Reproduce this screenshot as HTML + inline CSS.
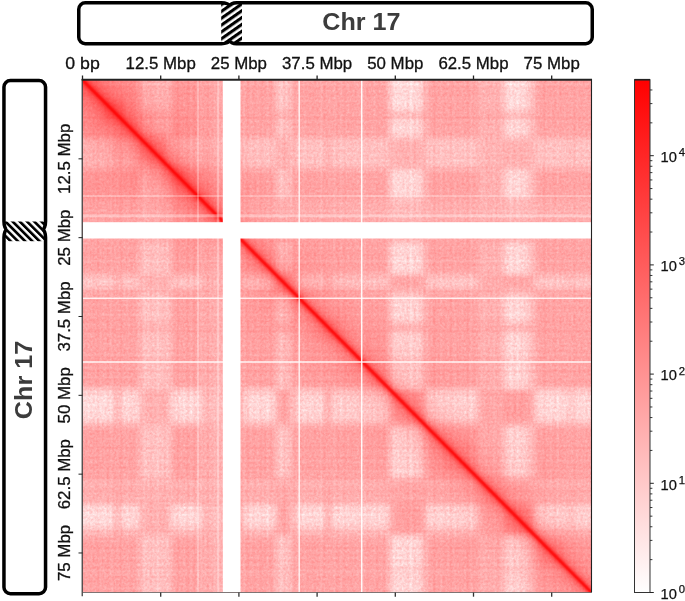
<!DOCTYPE html>
<html><head><meta charset="utf-8"><style>
html,body{margin:0;padding:0;background:#fff;width:685px;height:601px;overflow:hidden}
svg{display:block;will-change:transform}
text{font-family:"Liberation Sans",sans-serif}
</style></head><body>
<svg width="685" height="601" viewBox="0 0 685 601">
<defs>
<pattern id="hatchT" patternUnits="userSpaceOnUse" width="5.6" height="5.6" patternTransform="translate(221,3) rotate(-35)">
<rect x="0" y="0" width="5.6" height="3.1" fill="#000"/></pattern>
<pattern id="hatchL" patternUnits="userSpaceOnUse" width="5.1" height="5.1" patternTransform="translate(3,221) rotate(-45)">
<rect x="0" y="0" width="2.7" height="5.1" fill="#000"/></pattern>
<clipPath id="cpT"><path d="M85.25,2.75 H221.4 A8.2,3.4 0 0 1 229.6,6.15 A7.0,3.4 0 0 1 236.6,2.75 H585.75 A6.5,6.5 0 0 1 592.25,9.25 V37.25 A6.5,6.5 0 0 1 585.75,43.75 H236.6 A7.0,3.4 0 0 1 229.6,40.35 A8.2,3.4 0 0 1 221.4,43.75 H85.25 A6.5,6.5 0 0 1 78.75,37.25 V9.25 A6.5,6.5 0 0 1 85.25,2.75 Z"/></clipPath>
<clipPath id="cpL"><path d="M3.95,87.05 A6.5,6.5 0 0 1 10.45,80.55 H39.05 A6.5,6.5 0 0 1 45.55,87.05 V221.5 A3.2,8.0 0 0 1 42.35,229.5 A3.2,8.0 0 0 1 45.55,237.5 V587.15 A6.5,6.5 0 0 1 39.05,593.65 H10.45 A6.5,6.5 0 0 1 3.95,587.15 V237.5 A3.2,8.0 0 0 1 7.15,229.5 A3.2,8.0 0 0 1 3.95,221.5 Z"/></clipPath>
<clipPath id="hmclip"><rect x="82.5" y="80" width="509" height="512.5"/></clipPath>
<linearGradient id="cbg" x1="0" y1="1" x2="0" y2="0"><stop offset="0" stop-color="#fff"/><stop offset="1" stop-color="#f00"/></linearGradient>
<linearGradient id="diagg" x1="0" y1="0" x2="0" y2="1"><stop offset="0.0000" stop-color="#f00" stop-opacity="0.000"/><stop offset="0.1250" stop-color="#f00" stop-opacity="0.006"/><stop offset="0.2500" stop-color="#f00" stop-opacity="0.023"/><stop offset="0.3333" stop-color="#f00" stop-opacity="0.047"/><stop offset="0.3833" stop-color="#f00" stop-opacity="0.073"/><stop offset="0.4208" stop-color="#f00" stop-opacity="0.109"/><stop offset="0.4458" stop-color="#f00" stop-opacity="0.153"/><stop offset="0.4604" stop-color="#f00" stop-opacity="0.200"/><stop offset="0.4717" stop-color="#f00" stop-opacity="0.258"/><stop offset="0.4800" stop-color="#f00" stop-opacity="0.336"/><stop offset="0.4858" stop-color="#f00" stop-opacity="0.438"/><stop offset="0.4900" stop-color="#f00" stop-opacity="0.562"/><stop offset="0.4933" stop-color="#f00" stop-opacity="0.703"/><stop offset="0.4962" stop-color="#f00" stop-opacity="0.844"/><stop offset="0.5000" stop-color="#f00" stop-opacity="0.906"/><stop offset="0.5038" stop-color="#f00" stop-opacity="0.844"/><stop offset="0.5067" stop-color="#f00" stop-opacity="0.703"/><stop offset="0.5100" stop-color="#f00" stop-opacity="0.562"/><stop offset="0.5142" stop-color="#f00" stop-opacity="0.438"/><stop offset="0.5200" stop-color="#f00" stop-opacity="0.336"/><stop offset="0.5283" stop-color="#f00" stop-opacity="0.258"/><stop offset="0.5396" stop-color="#f00" stop-opacity="0.200"/><stop offset="0.5542" stop-color="#f00" stop-opacity="0.153"/><stop offset="0.5792" stop-color="#f00" stop-opacity="0.109"/><stop offset="0.6167" stop-color="#f00" stop-opacity="0.073"/><stop offset="0.6667" stop-color="#f00" stop-opacity="0.047"/><stop offset="0.7500" stop-color="#f00" stop-opacity="0.023"/><stop offset="0.8750" stop-color="#f00" stop-opacity="0.006"/><stop offset="1.0000" stop-color="#f00" stop-opacity="0.000"/></linearGradient><linearGradient id="phalo" x1="0" y1="0" x2="0" y2="1"><stop offset="0.0000" stop-color="#f00" stop-opacity="0.000"/><stop offset="0.1545" stop-color="#f00" stop-opacity="0.023"/><stop offset="0.2727" stop-color="#f00" stop-opacity="0.055"/><stop offset="0.3545" stop-color="#f00" stop-opacity="0.094"/><stop offset="0.4091" stop-color="#f00" stop-opacity="0.133"/><stop offset="0.4545" stop-color="#f00" stop-opacity="0.172"/><stop offset="0.5000" stop-color="#f00" stop-opacity="0.188"/><stop offset="0.5455" stop-color="#f00" stop-opacity="0.172"/><stop offset="0.5909" stop-color="#f00" stop-opacity="0.133"/><stop offset="0.6455" stop-color="#f00" stop-opacity="0.094"/><stop offset="0.7273" stop-color="#f00" stop-opacity="0.055"/><stop offset="0.8455" stop-color="#f00" stop-opacity="0.023"/><stop offset="1.0000" stop-color="#f00" stop-opacity="0.000"/></linearGradient>
<filter id="tex" filterUnits="userSpaceOnUse" x="82.5" y="80" width="509" height="512.5" color-interpolation-filters="sRGB">
<feTurbulence type="fractalNoise" baseFrequency="0.42" numOctaves="2" seed="4" result="n1"/>
<feTurbulence type="fractalNoise" baseFrequency="0 0.3" numOctaves="1" seed="9" result="n2"/>
<feTurbulence type="fractalNoise" baseFrequency="0.3 0" numOctaves="1" seed="11" result="n3"/>
<feComposite in="n2" in2="n3" operator="arithmetic" k2="0.5" k3="0.5" result="n23"/>
<feComposite in="n1" in2="n23" operator="arithmetic" k2="0.45" k3="0.55" result="n"/>
<feColorMatrix in="n" type="matrix" values="1 0 0 0 0  1 0 0 0 0  1 0 0 0 0  0 0 0 0 1" result="ng"/>
<feComposite in="SourceGraphic" in2="ng" operator="arithmetic" k1="0.65" k2="0.675" result="m"/>
<feColorMatrix in="m" type="matrix" values="0 0 0 0 1  0 1 0 0 0  0 0 1 0 0  0 0 0 0 1"/>
</filter>
<filter id="tadb" x="-30%" y="-30%" width="160%" height="160%"><feGaussianBlur stdDeviation="3"/></filter>
<filter id="blk" x="-5%" y="-5%" width="110%" height="110%"><feGaussianBlur stdDeviation="3.0"/></filter>
</defs>
<rect width="685" height="601" fill="#fff"/>
<path d="M85.25,2.75 H221.4 A8.2,3.4 0 0 1 229.6,6.15 A7.0,3.4 0 0 1 236.6,2.75 H585.75 A6.5,6.5 0 0 1 592.25,9.25 V37.25 A6.5,6.5 0 0 1 585.75,43.75 H236.6 A7.0,3.4 0 0 1 229.6,40.35 A8.2,3.4 0 0 1 221.4,43.75 H85.25 A6.5,6.5 0 0 1 78.75,37.25 V9.25 A6.5,6.5 0 0 1 85.25,2.75 Z" fill="#fff"/>
<rect x="221.2" y="0" width="20.8" height="47" fill="url(#hatchT)" clip-path="url(#cpT)"/>
<path d="M85.25,2.75 H221.4 A8.2,3.4 0 0 1 229.6,6.15 A7.0,3.4 0 0 1 236.6,2.75 H585.75 A6.5,6.5 0 0 1 592.25,9.25 V37.25 A6.5,6.5 0 0 1 585.75,43.75 H236.6 A7.0,3.4 0 0 1 229.6,40.35 A8.2,3.4 0 0 1 221.4,43.75 H85.25 A6.5,6.5 0 0 1 78.75,37.25 V9.25 A6.5,6.5 0 0 1 85.25,2.75 Z" fill="none" stroke="#000" stroke-width="3.5"/>
<path d="M3.95,87.05 A6.5,6.5 0 0 1 10.45,80.55 H39.05 A6.5,6.5 0 0 1 45.55,87.05 V221.5 A3.2,8.0 0 0 1 42.35,229.5 A3.2,8.0 0 0 1 45.55,237.5 V587.15 A6.5,6.5 0 0 1 39.05,593.65 H10.45 A6.5,6.5 0 0 1 3.95,587.15 V237.5 A3.2,8.0 0 0 1 7.15,229.5 A3.2,8.0 0 0 1 3.95,221.5 Z" fill="#fff"/>
<rect x="0" y="221.5" width="50" height="19.7" fill="url(#hatchL)" clip-path="url(#cpL)"/>
<path d="M3.95,87.05 A6.5,6.5 0 0 1 10.45,80.55 H39.05 A6.5,6.5 0 0 1 45.55,87.05 V221.5 A3.2,8.0 0 0 1 42.35,229.5 A3.2,8.0 0 0 1 45.55,237.5 V587.15 A6.5,6.5 0 0 1 39.05,593.65 H10.45 A6.5,6.5 0 0 1 3.95,587.15 V237.5 A3.2,8.0 0 0 1 7.15,229.5 A3.2,8.0 0 0 1 3.95,221.5 Z" fill="none" stroke="#000" stroke-width="3.5"/>
<text x="361.4" y="30.1" font-weight="bold" font-size="24.5" fill="#3c3c3c" text-anchor="middle" textLength="78.3" lengthAdjust="spacingAndGlyphs">Chr 17</text>
<text transform="translate(31.5,380) rotate(-90)" font-weight="bold" font-size="24.5" fill="#3c3c3c" text-anchor="middle" textLength="78.3" lengthAdjust="spacingAndGlyphs">Chr 17</text>
<g clip-path="url(#hmclip)">
<g filter="url(#tex)">
<g filter="url(#blk)">
<rect x="70.5" y="68" width="44.3" height="44.52" fill="rgb(255,152,152)"/>
<rect x="114.5" y="68" width="5.3" height="44.52" fill="rgb(255,160,160)"/>
<rect x="119.5" y="68" width="20.8" height="44.52" fill="rgb(255,153,153)"/>
<rect x="140" y="68" width="31.3" height="44.52" fill="rgb(255,183,183)"/>
<rect x="171" y="68" width="29.3" height="44.52" fill="rgb(255,153,153)"/>
<rect x="200" y="68" width="23.1" height="44.52" fill="rgb(255,164,164)"/>
<rect x="222.8" y="68" width="18" height="44.52" fill="rgb(255,171,171)"/>
<rect x="240.5" y="68" width="4.3" height="44.52" fill="rgb(255,168,168)"/>
<rect x="244.5" y="68" width="31.8" height="44.52" fill="rgb(255,163,163)"/>
<rect x="276" y="68" width="14.3" height="44.52" fill="rgb(255,198,198)"/>
<rect x="290" y="68" width="9.3" height="44.52" fill="rgb(255,167,167)"/>
<rect x="299" y="68" width="26.3" height="44.52" fill="rgb(255,163,163)"/>
<rect x="325" y="68" width="6.3" height="44.52" fill="rgb(255,166,166)"/>
<rect x="331" y="68" width="29.3" height="44.52" fill="rgb(255,164,164)"/>
<rect x="360" y="68" width="4.3" height="44.52" fill="rgb(255,166,166)"/>
<rect x="364" y="68" width="26.3" height="44.52" fill="rgb(255,164,164)"/>
<rect x="390" y="68" width="30.3" height="44.52" fill="rgb(255,217,217)"/>
<rect x="420" y="68" width="6.3" height="44.52" fill="rgb(255,194,194)"/>
<rect x="426" y="68" width="52.3" height="44.52" fill="rgb(255,163,163)"/>
<rect x="478" y="68" width="12.3" height="44.52" fill="rgb(255,178,178)"/>
<rect x="490" y="68" width="14.3" height="44.52" fill="rgb(255,175,175)"/>
<rect x="504" y="68" width="23.3" height="44.52" fill="rgb(255,217,217)"/>
<rect x="527" y="68" width="8.3" height="44.52" fill="rgb(255,192,192)"/>
<rect x="535" y="68" width="33.3" height="44.52" fill="rgb(255,163,163)"/>
<rect x="568" y="68" width="4.3" height="44.52" fill="rgb(255,167,167)"/>
<rect x="572" y="68" width="31.8" height="44.52" fill="rgb(255,164,164)"/>
<rect x="70.5" y="112.22" width="44.3" height="5.33" fill="rgb(255,160,160)"/>
<rect x="114.5" y="112.22" width="5.3" height="5.33" fill="rgb(255,161,161)"/>
<rect x="119.5" y="112.22" width="20.8" height="5.33" fill="rgb(255,160,160)"/>
<rect x="140" y="112.22" width="31.3" height="5.33" fill="rgb(255,170,170)"/>
<rect x="171" y="112.22" width="29.3" height="5.33" fill="rgb(255,160,160)"/>
<rect x="200" y="112.22" width="23.1" height="5.33" fill="rgb(255,166,166)"/>
<rect x="222.8" y="112.22" width="18" height="5.33" fill="rgb(255,171,171)"/>
<rect x="240.5" y="112.22" width="4.3" height="5.33" fill="rgb(255,171,171)"/>
<rect x="244.5" y="112.22" width="31.8" height="5.33" fill="rgb(255,170,170)"/>
<rect x="276" y="112.22" width="14.3" height="5.33" fill="rgb(255,172,172)"/>
<rect x="290" y="112.22" width="9.3" height="5.33" fill="rgb(255,171,171)"/>
<rect x="299" y="112.22" width="26.3" height="5.33" fill="rgb(255,170,170)"/>
<rect x="325" y="112.22" width="6.3" height="5.33" fill="rgb(255,166,166)"/>
<rect x="331" y="112.22" width="29.3" height="5.33" fill="rgb(255,170,170)"/>
<rect x="360" y="112.22" width="4.3" height="5.33" fill="rgb(255,171,171)"/>
<rect x="364" y="112.22" width="26.3" height="5.33" fill="rgb(255,170,170)"/>
<rect x="390" y="112.22" width="30.3" height="5.33" fill="rgb(255,173,173)"/>
<rect x="420" y="112.22" width="6.3" height="5.33" fill="rgb(255,172,172)"/>
<rect x="426" y="112.22" width="52.3" height="5.33" fill="rgb(255,170,170)"/>
<rect x="478" y="112.22" width="12.3" height="5.33" fill="rgb(255,174,174)"/>
<rect x="490" y="112.22" width="14.3" height="5.33" fill="rgb(255,171,171)"/>
<rect x="504" y="112.22" width="23.3" height="5.33" fill="rgb(255,173,173)"/>
<rect x="527" y="112.22" width="8.3" height="5.33" fill="rgb(255,172,172)"/>
<rect x="535" y="112.22" width="33.3" height="5.33" fill="rgb(255,170,170)"/>
<rect x="568" y="112.22" width="4.3" height="5.33" fill="rgb(255,171,171)"/>
<rect x="572" y="112.22" width="31.8" height="5.33" fill="rgb(255,170,170)"/>
<rect x="70.5" y="117.25" width="44.3" height="20.94" fill="rgb(255,153,153)"/>
<rect x="114.5" y="117.25" width="5.3" height="20.94" fill="rgb(255,160,160)"/>
<rect x="119.5" y="117.25" width="20.8" height="20.94" fill="rgb(255,154,154)"/>
<rect x="140" y="117.25" width="31.3" height="20.94" fill="rgb(255,182,182)"/>
<rect x="171" y="117.25" width="29.3" height="20.94" fill="rgb(255,154,154)"/>
<rect x="200" y="117.25" width="23.1" height="20.94" fill="rgb(255,164,164)"/>
<rect x="222.8" y="117.25" width="18" height="20.94" fill="rgb(255,171,171)"/>
<rect x="240.5" y="117.25" width="4.3" height="20.94" fill="rgb(255,168,168)"/>
<rect x="244.5" y="117.25" width="31.8" height="20.94" fill="rgb(255,164,164)"/>
<rect x="276" y="117.25" width="14.3" height="20.94" fill="rgb(255,195,195)"/>
<rect x="290" y="117.25" width="9.3" height="20.94" fill="rgb(255,168,168)"/>
<rect x="299" y="117.25" width="26.3" height="20.94" fill="rgb(255,164,164)"/>
<rect x="325" y="117.25" width="6.3" height="20.94" fill="rgb(255,166,166)"/>
<rect x="331" y="117.25" width="29.3" height="20.94" fill="rgb(255,164,164)"/>
<rect x="360" y="117.25" width="4.3" height="20.94" fill="rgb(255,167,167)"/>
<rect x="364" y="117.25" width="26.3" height="20.94" fill="rgb(255,164,164)"/>
<rect x="390" y="117.25" width="30.3" height="20.94" fill="rgb(255,212,212)"/>
<rect x="420" y="117.25" width="6.3" height="20.94" fill="rgb(255,191,191)"/>
<rect x="426" y="117.25" width="52.3" height="20.94" fill="rgb(255,164,164)"/>
<rect x="478" y="117.25" width="12.3" height="20.94" fill="rgb(255,177,177)"/>
<rect x="490" y="117.25" width="14.3" height="20.94" fill="rgb(255,175,175)"/>
<rect x="504" y="117.25" width="23.3" height="20.94" fill="rgb(255,212,212)"/>
<rect x="527" y="117.25" width="8.3" height="20.94" fill="rgb(255,189,189)"/>
<rect x="535" y="117.25" width="33.3" height="20.94" fill="rgb(255,164,164)"/>
<rect x="568" y="117.25" width="4.3" height="20.94" fill="rgb(255,168,168)"/>
<rect x="572" y="117.25" width="31.8" height="20.94" fill="rgb(255,164,164)"/>
<rect x="70.5" y="137.9" width="44.3" height="31.51" fill="rgb(255,183,183)"/>
<rect x="114.5" y="137.9" width="5.3" height="31.51" fill="rgb(255,170,170)"/>
<rect x="119.5" y="137.9" width="20.8" height="31.51" fill="rgb(255,182,182)"/>
<rect x="140" y="137.9" width="31.3" height="31.51" fill="rgb(255,178,178)"/>
<rect x="171" y="137.9" width="29.3" height="31.51" fill="rgb(255,183,183)"/>
<rect x="200" y="137.9" width="23.1" height="31.51" fill="rgb(255,178,178)"/>
<rect x="222.8" y="137.9" width="18" height="31.51" fill="rgb(255,180,180)"/>
<rect x="240.5" y="137.9" width="4.3" height="31.51" fill="rgb(255,184,184)"/>
<rect x="244.5" y="137.9" width="31.8" height="31.51" fill="rgb(255,193,193)"/>
<rect x="276" y="137.9" width="14.3" height="31.51" fill="rgb(255,178,178)"/>
<rect x="290" y="137.9" width="9.3" height="31.51" fill="rgb(255,186,186)"/>
<rect x="299" y="137.9" width="26.3" height="31.51" fill="rgb(255,193,193)"/>
<rect x="325" y="137.9" width="6.3" height="31.51" fill="rgb(255,175,175)"/>
<rect x="331" y="137.9" width="29.3" height="31.51" fill="rgb(255,192,192)"/>
<rect x="360" y="137.9" width="4.3" height="31.51" fill="rgb(255,187,187)"/>
<rect x="364" y="137.9" width="26.3" height="31.51" fill="rgb(255,192,192)"/>
<rect x="390" y="137.9" width="30.3" height="31.51" fill="rgb(255,177,177)"/>
<rect x="420" y="137.9" width="6.3" height="31.51" fill="rgb(255,178,178)"/>
<rect x="426" y="137.9" width="52.3" height="31.51" fill="rgb(255,193,193)"/>
<rect x="478" y="137.9" width="12.3" height="31.51" fill="rgb(255,182,182)"/>
<rect x="490" y="137.9" width="14.3" height="31.51" fill="rgb(255,179,179)"/>
<rect x="504" y="137.9" width="23.3" height="31.51" fill="rgb(255,177,177)"/>
<rect x="527" y="137.9" width="8.3" height="31.51" fill="rgb(255,178,178)"/>
<rect x="535" y="137.9" width="33.3" height="31.51" fill="rgb(255,193,193)"/>
<rect x="568" y="137.9" width="4.3" height="31.51" fill="rgb(255,186,186)"/>
<rect x="572" y="137.9" width="31.8" height="31.51" fill="rgb(255,192,192)"/>
<rect x="70.5" y="169.11" width="44.3" height="29.5" fill="rgb(255,153,153)"/>
<rect x="114.5" y="169.11" width="5.3" height="29.5" fill="rgb(255,160,160)"/>
<rect x="119.5" y="169.11" width="20.8" height="29.5" fill="rgb(255,154,154)"/>
<rect x="140" y="169.11" width="31.3" height="29.5" fill="rgb(255,183,183)"/>
<rect x="171" y="169.11" width="29.3" height="29.5" fill="rgb(255,153,153)"/>
<rect x="200" y="169.11" width="23.1" height="29.5" fill="rgb(255,164,164)"/>
<rect x="222.8" y="169.11" width="18" height="29.5" fill="rgb(255,171,171)"/>
<rect x="240.5" y="169.11" width="4.3" height="29.5" fill="rgb(255,168,168)"/>
<rect x="244.5" y="169.11" width="31.8" height="29.5" fill="rgb(255,163,163)"/>
<rect x="276" y="169.11" width="14.3" height="29.5" fill="rgb(255,197,197)"/>
<rect x="290" y="169.11" width="9.3" height="29.5" fill="rgb(255,167,167)"/>
<rect x="299" y="169.11" width="26.3" height="29.5" fill="rgb(255,163,163)"/>
<rect x="325" y="169.11" width="6.3" height="29.5" fill="rgb(255,166,166)"/>
<rect x="331" y="169.11" width="29.3" height="29.5" fill="rgb(255,164,164)"/>
<rect x="360" y="169.11" width="4.3" height="29.5" fill="rgb(255,167,167)"/>
<rect x="364" y="169.11" width="26.3" height="29.5" fill="rgb(255,164,164)"/>
<rect x="390" y="169.11" width="30.3" height="29.5" fill="rgb(255,214,214)"/>
<rect x="420" y="169.11" width="6.3" height="29.5" fill="rgb(255,193,193)"/>
<rect x="426" y="169.11" width="52.3" height="29.5" fill="rgb(255,163,163)"/>
<rect x="478" y="169.11" width="12.3" height="29.5" fill="rgb(255,178,178)"/>
<rect x="490" y="169.11" width="14.3" height="29.5" fill="rgb(255,175,175)"/>
<rect x="504" y="169.11" width="23.3" height="29.5" fill="rgb(255,214,214)"/>
<rect x="527" y="169.11" width="8.3" height="29.5" fill="rgb(255,190,190)"/>
<rect x="535" y="169.11" width="33.3" height="29.5" fill="rgb(255,163,163)"/>
<rect x="568" y="169.11" width="4.3" height="29.5" fill="rgb(255,167,167)"/>
<rect x="572" y="169.11" width="31.8" height="29.5" fill="rgb(255,164,164)"/>
<rect x="70.5" y="198.31" width="44.3" height="23.26" fill="rgb(255,164,164)"/>
<rect x="114.5" y="198.31" width="5.3" height="23.26" fill="rgb(255,166,166)"/>
<rect x="119.5" y="198.31" width="20.8" height="23.26" fill="rgb(255,164,164)"/>
<rect x="140" y="198.31" width="31.3" height="23.26" fill="rgb(255,178,178)"/>
<rect x="171" y="198.31" width="29.3" height="23.26" fill="rgb(255,164,164)"/>
<rect x="200" y="198.31" width="23.1" height="23.26" fill="rgb(255,170,170)"/>
<rect x="222.8" y="198.31" width="18" height="23.26" fill="rgb(255,176,176)"/>
<rect x="240.5" y="198.31" width="4.3" height="23.26" fill="rgb(255,175,175)"/>
<rect x="244.5" y="198.31" width="31.8" height="23.26" fill="rgb(255,174,174)"/>
<rect x="276" y="198.31" width="14.3" height="23.26" fill="rgb(255,182,182)"/>
<rect x="290" y="198.31" width="9.3" height="23.26" fill="rgb(255,175,175)"/>
<rect x="299" y="198.31" width="26.3" height="23.26" fill="rgb(255,174,174)"/>
<rect x="325" y="198.31" width="6.3" height="23.26" fill="rgb(255,171,171)"/>
<rect x="331" y="198.31" width="29.3" height="23.26" fill="rgb(255,174,174)"/>
<rect x="360" y="198.31" width="4.3" height="23.26" fill="rgb(255,175,175)"/>
<rect x="364" y="198.31" width="26.3" height="23.26" fill="rgb(255,174,174)"/>
<rect x="390" y="198.31" width="30.3" height="23.26" fill="rgb(255,186,186)"/>
<rect x="420" y="198.31" width="6.3" height="23.26" fill="rgb(255,181,181)"/>
<rect x="426" y="198.31" width="52.3" height="23.26" fill="rgb(255,174,174)"/>
<rect x="478" y="198.31" width="12.3" height="23.26" fill="rgb(255,180,180)"/>
<rect x="490" y="198.31" width="14.3" height="23.26" fill="rgb(255,177,177)"/>
<rect x="504" y="198.31" width="23.3" height="23.26" fill="rgb(255,186,186)"/>
<rect x="527" y="198.31" width="8.3" height="23.26" fill="rgb(255,181,181)"/>
<rect x="535" y="198.31" width="33.3" height="23.26" fill="rgb(255,174,174)"/>
<rect x="568" y="198.31" width="4.3" height="23.26" fill="rgb(255,175,175)"/>
<rect x="572" y="198.31" width="31.8" height="23.26" fill="rgb(255,174,174)"/>
<rect x="70.5" y="221.26" width="44.3" height="18.12" fill="rgb(255,171,171)"/>
<rect x="114.5" y="221.26" width="5.3" height="18.12" fill="rgb(255,171,171)"/>
<rect x="119.5" y="221.26" width="20.8" height="18.12" fill="rgb(255,171,171)"/>
<rect x="140" y="221.26" width="31.3" height="18.12" fill="rgb(255,180,180)"/>
<rect x="171" y="221.26" width="29.3" height="18.12" fill="rgb(255,171,171)"/>
<rect x="200" y="221.26" width="23.1" height="18.12" fill="rgb(255,176,176)"/>
<rect x="222.8" y="221.26" width="18" height="18.12" fill="rgb(255,171,171)"/>
<rect x="240.5" y="221.26" width="4.3" height="18.12" fill="rgb(255,171,171)"/>
<rect x="244.5" y="221.26" width="31.8" height="18.12" fill="rgb(255,171,171)"/>
<rect x="276" y="221.26" width="14.3" height="18.12" fill="rgb(255,171,171)"/>
<rect x="290" y="221.26" width="9.3" height="18.12" fill="rgb(255,171,171)"/>
<rect x="299" y="221.26" width="26.3" height="18.12" fill="rgb(255,171,171)"/>
<rect x="325" y="221.26" width="6.3" height="18.12" fill="rgb(255,166,166)"/>
<rect x="331" y="221.26" width="29.3" height="18.12" fill="rgb(255,171,171)"/>
<rect x="360" y="221.26" width="4.3" height="18.12" fill="rgb(255,171,171)"/>
<rect x="364" y="221.26" width="26.3" height="18.12" fill="rgb(255,171,171)"/>
<rect x="390" y="221.26" width="30.3" height="18.12" fill="rgb(255,171,171)"/>
<rect x="420" y="221.26" width="6.3" height="18.12" fill="rgb(255,171,171)"/>
<rect x="426" y="221.26" width="52.3" height="18.12" fill="rgb(255,171,171)"/>
<rect x="478" y="221.26" width="12.3" height="18.12" fill="rgb(255,173,173)"/>
<rect x="490" y="221.26" width="14.3" height="18.12" fill="rgb(255,171,171)"/>
<rect x="504" y="221.26" width="23.3" height="18.12" fill="rgb(255,171,171)"/>
<rect x="527" y="221.26" width="8.3" height="18.12" fill="rgb(255,171,171)"/>
<rect x="535" y="221.26" width="33.3" height="18.12" fill="rgb(255,171,171)"/>
<rect x="568" y="221.26" width="4.3" height="18.12" fill="rgb(255,171,171)"/>
<rect x="572" y="221.26" width="31.8" height="18.12" fill="rgb(255,171,171)"/>
<rect x="70.5" y="239.09" width="44.3" height="4.33" fill="rgb(255,168,168)"/>
<rect x="114.5" y="239.09" width="5.3" height="4.33" fill="rgb(255,171,171)"/>
<rect x="119.5" y="239.09" width="20.8" height="4.33" fill="rgb(255,168,168)"/>
<rect x="140" y="239.09" width="31.3" height="4.33" fill="rgb(255,184,184)"/>
<rect x="171" y="239.09" width="29.3" height="4.33" fill="rgb(255,168,168)"/>
<rect x="200" y="239.09" width="23.1" height="4.33" fill="rgb(255,175,175)"/>
<rect x="222.8" y="239.09" width="18" height="4.33" fill="rgb(255,171,171)"/>
<rect x="240.5" y="239.09" width="4.3" height="4.33" fill="rgb(255,170,170)"/>
<rect x="244.5" y="239.09" width="31.8" height="4.33" fill="rgb(255,168,168)"/>
<rect x="276" y="239.09" width="14.3" height="4.33" fill="rgb(255,180,180)"/>
<rect x="290" y="239.09" width="9.3" height="4.33" fill="rgb(255,170,170)"/>
<rect x="299" y="239.09" width="26.3" height="4.33" fill="rgb(255,168,168)"/>
<rect x="325" y="239.09" width="6.3" height="4.33" fill="rgb(255,166,166)"/>
<rect x="331" y="239.09" width="29.3" height="4.33" fill="rgb(255,168,168)"/>
<rect x="360" y="239.09" width="4.3" height="4.33" fill="rgb(255,169,169)"/>
<rect x="364" y="239.09" width="26.3" height="4.33" fill="rgb(255,168,168)"/>
<rect x="390" y="239.09" width="30.3" height="4.33" fill="rgb(255,186,186)"/>
<rect x="420" y="239.09" width="6.3" height="4.33" fill="rgb(255,178,178)"/>
<rect x="426" y="239.09" width="52.3" height="4.33" fill="rgb(255,168,168)"/>
<rect x="478" y="239.09" width="12.3" height="4.33" fill="rgb(255,175,175)"/>
<rect x="490" y="239.09" width="14.3" height="4.33" fill="rgb(255,172,172)"/>
<rect x="504" y="239.09" width="23.3" height="4.33" fill="rgb(255,186,186)"/>
<rect x="527" y="239.09" width="8.3" height="4.33" fill="rgb(255,178,178)"/>
<rect x="535" y="239.09" width="33.3" height="4.33" fill="rgb(255,168,168)"/>
<rect x="568" y="239.09" width="4.3" height="4.33" fill="rgb(255,170,170)"/>
<rect x="572" y="239.09" width="31.8" height="4.33" fill="rgb(255,168,168)"/>
<rect x="70.5" y="243.11" width="44.3" height="32.02" fill="rgb(255,163,163)"/>
<rect x="114.5" y="243.11" width="5.3" height="32.02" fill="rgb(255,170,170)"/>
<rect x="119.5" y="243.11" width="20.8" height="32.02" fill="rgb(255,164,164)"/>
<rect x="140" y="243.11" width="31.3" height="32.02" fill="rgb(255,193,193)"/>
<rect x="171" y="243.11" width="29.3" height="32.02" fill="rgb(255,163,163)"/>
<rect x="200" y="243.11" width="23.1" height="32.02" fill="rgb(255,174,174)"/>
<rect x="222.8" y="243.11" width="18" height="32.02" fill="rgb(255,171,171)"/>
<rect x="240.5" y="243.11" width="4.3" height="32.02" fill="rgb(255,168,168)"/>
<rect x="244.5" y="243.11" width="31.8" height="32.02" fill="rgb(255,163,163)"/>
<rect x="276" y="243.11" width="14.3" height="32.02" fill="rgb(255,197,197)"/>
<rect x="290" y="243.11" width="9.3" height="32.02" fill="rgb(255,167,167)"/>
<rect x="299" y="243.11" width="26.3" height="32.02" fill="rgb(255,163,163)"/>
<rect x="325" y="243.11" width="6.3" height="32.02" fill="rgb(255,166,166)"/>
<rect x="331" y="243.11" width="29.3" height="32.02" fill="rgb(255,164,164)"/>
<rect x="360" y="243.11" width="4.3" height="32.02" fill="rgb(255,167,167)"/>
<rect x="364" y="243.11" width="26.3" height="32.02" fill="rgb(255,164,164)"/>
<rect x="390" y="243.11" width="30.3" height="32.02" fill="rgb(255,214,214)"/>
<rect x="420" y="243.11" width="6.3" height="32.02" fill="rgb(255,193,193)"/>
<rect x="426" y="243.11" width="52.3" height="32.02" fill="rgb(255,163,163)"/>
<rect x="478" y="243.11" width="12.3" height="32.02" fill="rgb(255,178,178)"/>
<rect x="490" y="243.11" width="14.3" height="32.02" fill="rgb(255,175,175)"/>
<rect x="504" y="243.11" width="23.3" height="32.02" fill="rgb(255,214,214)"/>
<rect x="527" y="243.11" width="8.3" height="32.02" fill="rgb(255,190,190)"/>
<rect x="535" y="243.11" width="33.3" height="32.02" fill="rgb(255,163,163)"/>
<rect x="568" y="243.11" width="4.3" height="32.02" fill="rgb(255,167,167)"/>
<rect x="572" y="243.11" width="31.8" height="32.02" fill="rgb(255,164,164)"/>
<rect x="70.5" y="274.83" width="44.3" height="14.4" fill="rgb(255,198,198)"/>
<rect x="114.5" y="274.83" width="5.3" height="14.4" fill="rgb(255,172,172)"/>
<rect x="119.5" y="274.83" width="20.8" height="14.4" fill="rgb(255,195,195)"/>
<rect x="140" y="274.83" width="31.3" height="14.4" fill="rgb(255,178,178)"/>
<rect x="171" y="274.83" width="29.3" height="14.4" fill="rgb(255,197,197)"/>
<rect x="200" y="274.83" width="23.1" height="14.4" fill="rgb(255,182,182)"/>
<rect x="222.8" y="274.83" width="18" height="14.4" fill="rgb(255,171,171)"/>
<rect x="240.5" y="274.83" width="4.3" height="14.4" fill="rgb(255,180,180)"/>
<rect x="244.5" y="274.83" width="31.8" height="14.4" fill="rgb(255,197,197)"/>
<rect x="276" y="274.83" width="14.3" height="14.4" fill="rgb(255,167,167)"/>
<rect x="290" y="274.83" width="9.3" height="14.4" fill="rgb(255,183,183)"/>
<rect x="299" y="274.83" width="26.3" height="14.4" fill="rgb(255,197,197)"/>
<rect x="325" y="274.83" width="6.3" height="14.4" fill="rgb(255,166,166)"/>
<rect x="331" y="274.83" width="29.3" height="14.4" fill="rgb(255,195,195)"/>
<rect x="360" y="274.83" width="4.3" height="14.4" fill="rgb(255,186,186)"/>
<rect x="364" y="274.83" width="26.3" height="14.4" fill="rgb(255,195,195)"/>
<rect x="390" y="274.83" width="30.3" height="14.4" fill="rgb(255,165,165)"/>
<rect x="420" y="274.83" width="6.3" height="14.4" fill="rgb(255,168,168)"/>
<rect x="426" y="274.83" width="52.3" height="14.4" fill="rgb(255,197,197)"/>
<rect x="478" y="274.83" width="12.3" height="14.4" fill="rgb(255,173,173)"/>
<rect x="490" y="274.83" width="14.3" height="14.4" fill="rgb(255,170,170)"/>
<rect x="504" y="274.83" width="23.3" height="14.4" fill="rgb(255,165,165)"/>
<rect x="527" y="274.83" width="8.3" height="14.4" fill="rgb(255,168,168)"/>
<rect x="535" y="274.83" width="33.3" height="14.4" fill="rgb(255,197,197)"/>
<rect x="568" y="274.83" width="4.3" height="14.4" fill="rgb(255,183,183)"/>
<rect x="572" y="274.83" width="31.8" height="14.4" fill="rgb(255,195,195)"/>
<rect x="70.5" y="288.93" width="44.3" height="9.36" fill="rgb(255,167,167)"/>
<rect x="114.5" y="288.93" width="5.3" height="9.36" fill="rgb(255,171,171)"/>
<rect x="119.5" y="288.93" width="20.8" height="9.36" fill="rgb(255,168,168)"/>
<rect x="140" y="288.93" width="31.3" height="9.36" fill="rgb(255,186,186)"/>
<rect x="171" y="288.93" width="29.3" height="9.36" fill="rgb(255,167,167)"/>
<rect x="200" y="288.93" width="23.1" height="9.36" fill="rgb(255,175,175)"/>
<rect x="222.8" y="288.93" width="18" height="9.36" fill="rgb(255,171,171)"/>
<rect x="240.5" y="288.93" width="4.3" height="9.36" fill="rgb(255,170,170)"/>
<rect x="244.5" y="288.93" width="31.8" height="9.36" fill="rgb(255,167,167)"/>
<rect x="276" y="288.93" width="14.3" height="9.36" fill="rgb(255,183,183)"/>
<rect x="290" y="288.93" width="9.3" height="9.36" fill="rgb(255,169,169)"/>
<rect x="299" y="288.93" width="26.3" height="9.36" fill="rgb(255,167,167)"/>
<rect x="325" y="288.93" width="6.3" height="9.36" fill="rgb(255,166,166)"/>
<rect x="331" y="288.93" width="29.3" height="9.36" fill="rgb(255,168,168)"/>
<rect x="360" y="288.93" width="4.3" height="9.36" fill="rgb(255,169,169)"/>
<rect x="364" y="288.93" width="26.3" height="9.36" fill="rgb(255,168,168)"/>
<rect x="390" y="288.93" width="30.3" height="9.36" fill="rgb(255,191,191)"/>
<rect x="420" y="288.93" width="6.3" height="9.36" fill="rgb(255,181,181)"/>
<rect x="426" y="288.93" width="52.3" height="9.36" fill="rgb(255,167,167)"/>
<rect x="478" y="288.93" width="12.3" height="9.36" fill="rgb(255,175,175)"/>
<rect x="490" y="288.93" width="14.3" height="9.36" fill="rgb(255,173,173)"/>
<rect x="504" y="288.93" width="23.3" height="9.36" fill="rgb(255,191,191)"/>
<rect x="527" y="288.93" width="8.3" height="9.36" fill="rgb(255,180,180)"/>
<rect x="535" y="288.93" width="33.3" height="9.36" fill="rgb(255,167,167)"/>
<rect x="568" y="288.93" width="4.3" height="9.36" fill="rgb(255,169,169)"/>
<rect x="572" y="288.93" width="31.8" height="9.36" fill="rgb(255,168,168)"/>
<rect x="70.5" y="297.99" width="44.3" height="26.48" fill="rgb(255,163,163)"/>
<rect x="114.5" y="297.99" width="5.3" height="26.48" fill="rgb(255,170,170)"/>
<rect x="119.5" y="297.99" width="20.8" height="26.48" fill="rgb(255,164,164)"/>
<rect x="140" y="297.99" width="31.3" height="26.48" fill="rgb(255,193,193)"/>
<rect x="171" y="297.99" width="29.3" height="26.48" fill="rgb(255,163,163)"/>
<rect x="200" y="297.99" width="23.1" height="26.48" fill="rgb(255,174,174)"/>
<rect x="222.8" y="297.99" width="18" height="26.48" fill="rgb(255,171,171)"/>
<rect x="240.5" y="297.99" width="4.3" height="26.48" fill="rgb(255,168,168)"/>
<rect x="244.5" y="297.99" width="31.8" height="26.48" fill="rgb(255,163,163)"/>
<rect x="276" y="297.99" width="14.3" height="26.48" fill="rgb(255,197,197)"/>
<rect x="290" y="297.99" width="9.3" height="26.48" fill="rgb(255,167,167)"/>
<rect x="299" y="297.99" width="26.3" height="26.48" fill="rgb(255,163,163)"/>
<rect x="325" y="297.99" width="6.3" height="26.48" fill="rgb(255,166,166)"/>
<rect x="331" y="297.99" width="29.3" height="26.48" fill="rgb(255,164,164)"/>
<rect x="360" y="297.99" width="4.3" height="26.48" fill="rgb(255,167,167)"/>
<rect x="364" y="297.99" width="26.3" height="26.48" fill="rgb(255,164,164)"/>
<rect x="390" y="297.99" width="30.3" height="26.48" fill="rgb(255,214,214)"/>
<rect x="420" y="297.99" width="6.3" height="26.48" fill="rgb(255,193,193)"/>
<rect x="426" y="297.99" width="52.3" height="26.48" fill="rgb(255,163,163)"/>
<rect x="478" y="297.99" width="12.3" height="26.48" fill="rgb(255,178,178)"/>
<rect x="490" y="297.99" width="14.3" height="26.48" fill="rgb(255,175,175)"/>
<rect x="504" y="297.99" width="23.3" height="26.48" fill="rgb(255,214,214)"/>
<rect x="527" y="297.99" width="8.3" height="26.48" fill="rgb(255,190,190)"/>
<rect x="535" y="297.99" width="33.3" height="26.48" fill="rgb(255,163,163)"/>
<rect x="568" y="297.99" width="4.3" height="26.48" fill="rgb(255,167,167)"/>
<rect x="572" y="297.99" width="31.8" height="26.48" fill="rgb(255,164,164)"/>
<rect x="70.5" y="324.17" width="44.3" height="6.34" fill="rgb(255,166,166)"/>
<rect x="114.5" y="324.17" width="5.3" height="6.34" fill="rgb(255,166,166)"/>
<rect x="119.5" y="324.17" width="20.8" height="6.34" fill="rgb(255,166,166)"/>
<rect x="140" y="324.17" width="31.3" height="6.34" fill="rgb(255,175,175)"/>
<rect x="171" y="324.17" width="29.3" height="6.34" fill="rgb(255,166,166)"/>
<rect x="200" y="324.17" width="23.1" height="6.34" fill="rgb(255,171,171)"/>
<rect x="222.8" y="324.17" width="18" height="6.34" fill="rgb(255,166,166)"/>
<rect x="240.5" y="324.17" width="4.3" height="6.34" fill="rgb(255,166,166)"/>
<rect x="244.5" y="324.17" width="31.8" height="6.34" fill="rgb(255,166,166)"/>
<rect x="276" y="324.17" width="14.3" height="6.34" fill="rgb(255,166,166)"/>
<rect x="290" y="324.17" width="9.3" height="6.34" fill="rgb(255,166,166)"/>
<rect x="299" y="324.17" width="26.3" height="6.34" fill="rgb(255,166,166)"/>
<rect x="325" y="324.17" width="6.3" height="6.34" fill="rgb(255,161,161)"/>
<rect x="331" y="324.17" width="29.3" height="6.34" fill="rgb(255,166,166)"/>
<rect x="360" y="324.17" width="4.3" height="6.34" fill="rgb(255,166,166)"/>
<rect x="364" y="324.17" width="26.3" height="6.34" fill="rgb(255,166,166)"/>
<rect x="390" y="324.17" width="30.3" height="6.34" fill="rgb(255,166,166)"/>
<rect x="420" y="324.17" width="6.3" height="6.34" fill="rgb(255,166,166)"/>
<rect x="426" y="324.17" width="52.3" height="6.34" fill="rgb(255,166,166)"/>
<rect x="478" y="324.17" width="12.3" height="6.34" fill="rgb(255,168,168)"/>
<rect x="490" y="324.17" width="14.3" height="6.34" fill="rgb(255,166,166)"/>
<rect x="504" y="324.17" width="23.3" height="6.34" fill="rgb(255,166,166)"/>
<rect x="527" y="324.17" width="8.3" height="6.34" fill="rgb(255,166,166)"/>
<rect x="535" y="324.17" width="33.3" height="6.34" fill="rgb(255,166,166)"/>
<rect x="568" y="324.17" width="4.3" height="6.34" fill="rgb(255,166,166)"/>
<rect x="572" y="324.17" width="31.8" height="6.34" fill="rgb(255,166,166)"/>
<rect x="70.5" y="330.21" width="44.3" height="29.5" fill="rgb(255,164,164)"/>
<rect x="114.5" y="330.21" width="5.3" height="29.5" fill="rgb(255,170,170)"/>
<rect x="119.5" y="330.21" width="20.8" height="29.5" fill="rgb(255,164,164)"/>
<rect x="140" y="330.21" width="31.3" height="29.5" fill="rgb(255,192,192)"/>
<rect x="171" y="330.21" width="29.3" height="29.5" fill="rgb(255,164,164)"/>
<rect x="200" y="330.21" width="23.1" height="29.5" fill="rgb(255,174,174)"/>
<rect x="222.8" y="330.21" width="18" height="29.5" fill="rgb(255,171,171)"/>
<rect x="240.5" y="330.21" width="4.3" height="29.5" fill="rgb(255,168,168)"/>
<rect x="244.5" y="330.21" width="31.8" height="29.5" fill="rgb(255,164,164)"/>
<rect x="276" y="330.21" width="14.3" height="29.5" fill="rgb(255,195,195)"/>
<rect x="290" y="330.21" width="9.3" height="29.5" fill="rgb(255,168,168)"/>
<rect x="299" y="330.21" width="26.3" height="29.5" fill="rgb(255,164,164)"/>
<rect x="325" y="330.21" width="6.3" height="29.5" fill="rgb(255,166,166)"/>
<rect x="331" y="330.21" width="29.3" height="29.5" fill="rgb(255,164,164)"/>
<rect x="360" y="330.21" width="4.3" height="29.5" fill="rgb(255,167,167)"/>
<rect x="364" y="330.21" width="26.3" height="29.5" fill="rgb(255,164,164)"/>
<rect x="390" y="330.21" width="30.3" height="29.5" fill="rgb(255,212,212)"/>
<rect x="420" y="330.21" width="6.3" height="29.5" fill="rgb(255,191,191)"/>
<rect x="426" y="330.21" width="52.3" height="29.5" fill="rgb(255,164,164)"/>
<rect x="478" y="330.21" width="12.3" height="29.5" fill="rgb(255,177,177)"/>
<rect x="490" y="330.21" width="14.3" height="29.5" fill="rgb(255,175,175)"/>
<rect x="504" y="330.21" width="23.3" height="29.5" fill="rgb(255,212,212)"/>
<rect x="527" y="330.21" width="8.3" height="29.5" fill="rgb(255,189,189)"/>
<rect x="535" y="330.21" width="33.3" height="29.5" fill="rgb(255,164,164)"/>
<rect x="568" y="330.21" width="4.3" height="29.5" fill="rgb(255,168,168)"/>
<rect x="572" y="330.21" width="31.8" height="29.5" fill="rgb(255,164,164)"/>
<rect x="70.5" y="359.41" width="44.3" height="4.33" fill="rgb(255,166,166)"/>
<rect x="114.5" y="359.41" width="5.3" height="4.33" fill="rgb(255,171,171)"/>
<rect x="119.5" y="359.41" width="20.8" height="4.33" fill="rgb(255,167,167)"/>
<rect x="140" y="359.41" width="31.3" height="4.33" fill="rgb(255,187,187)"/>
<rect x="171" y="359.41" width="29.3" height="4.33" fill="rgb(255,167,167)"/>
<rect x="200" y="359.41" width="23.1" height="4.33" fill="rgb(255,175,175)"/>
<rect x="222.8" y="359.41" width="18" height="4.33" fill="rgb(255,171,171)"/>
<rect x="240.5" y="359.41" width="4.3" height="4.33" fill="rgb(255,169,169)"/>
<rect x="244.5" y="359.41" width="31.8" height="4.33" fill="rgb(255,167,167)"/>
<rect x="276" y="359.41" width="14.3" height="4.33" fill="rgb(255,186,186)"/>
<rect x="290" y="359.41" width="9.3" height="4.33" fill="rgb(255,169,169)"/>
<rect x="299" y="359.41" width="26.3" height="4.33" fill="rgb(255,167,167)"/>
<rect x="325" y="359.41" width="6.3" height="4.33" fill="rgb(255,166,166)"/>
<rect x="331" y="359.41" width="29.3" height="4.33" fill="rgb(255,167,167)"/>
<rect x="360" y="359.41" width="4.3" height="4.33" fill="rgb(255,168,168)"/>
<rect x="364" y="359.41" width="26.3" height="4.33" fill="rgb(255,167,167)"/>
<rect x="390" y="359.41" width="30.3" height="4.33" fill="rgb(255,196,196)"/>
<rect x="420" y="359.41" width="6.3" height="4.33" fill="rgb(255,184,184)"/>
<rect x="426" y="359.41" width="52.3" height="4.33" fill="rgb(255,167,167)"/>
<rect x="478" y="359.41" width="12.3" height="4.33" fill="rgb(255,176,176)"/>
<rect x="490" y="359.41" width="14.3" height="4.33" fill="rgb(255,173,173)"/>
<rect x="504" y="359.41" width="23.3" height="4.33" fill="rgb(255,196,196)"/>
<rect x="527" y="359.41" width="8.3" height="4.33" fill="rgb(255,182,182)"/>
<rect x="535" y="359.41" width="33.3" height="4.33" fill="rgb(255,167,167)"/>
<rect x="568" y="359.41" width="4.3" height="4.33" fill="rgb(255,169,169)"/>
<rect x="572" y="359.41" width="31.8" height="4.33" fill="rgb(255,167,167)"/>
<rect x="70.5" y="363.44" width="44.3" height="26.48" fill="rgb(255,164,164)"/>
<rect x="114.5" y="363.44" width="5.3" height="26.48" fill="rgb(255,170,170)"/>
<rect x="119.5" y="363.44" width="20.8" height="26.48" fill="rgb(255,164,164)"/>
<rect x="140" y="363.44" width="31.3" height="26.48" fill="rgb(255,192,192)"/>
<rect x="171" y="363.44" width="29.3" height="26.48" fill="rgb(255,164,164)"/>
<rect x="200" y="363.44" width="23.1" height="26.48" fill="rgb(255,174,174)"/>
<rect x="222.8" y="363.44" width="18" height="26.48" fill="rgb(255,171,171)"/>
<rect x="240.5" y="363.44" width="4.3" height="26.48" fill="rgb(255,168,168)"/>
<rect x="244.5" y="363.44" width="31.8" height="26.48" fill="rgb(255,164,164)"/>
<rect x="276" y="363.44" width="14.3" height="26.48" fill="rgb(255,195,195)"/>
<rect x="290" y="363.44" width="9.3" height="26.48" fill="rgb(255,168,168)"/>
<rect x="299" y="363.44" width="26.3" height="26.48" fill="rgb(255,164,164)"/>
<rect x="325" y="363.44" width="6.3" height="26.48" fill="rgb(255,166,166)"/>
<rect x="331" y="363.44" width="29.3" height="26.48" fill="rgb(255,164,164)"/>
<rect x="360" y="363.44" width="4.3" height="26.48" fill="rgb(255,167,167)"/>
<rect x="364" y="363.44" width="26.3" height="26.48" fill="rgb(255,164,164)"/>
<rect x="390" y="363.44" width="30.3" height="26.48" fill="rgb(255,212,212)"/>
<rect x="420" y="363.44" width="6.3" height="26.48" fill="rgb(255,191,191)"/>
<rect x="426" y="363.44" width="52.3" height="26.48" fill="rgb(255,164,164)"/>
<rect x="478" y="363.44" width="12.3" height="26.48" fill="rgb(255,177,177)"/>
<rect x="490" y="363.44" width="14.3" height="26.48" fill="rgb(255,175,175)"/>
<rect x="504" y="363.44" width="23.3" height="26.48" fill="rgb(255,212,212)"/>
<rect x="527" y="363.44" width="8.3" height="26.48" fill="rgb(255,189,189)"/>
<rect x="535" y="363.44" width="33.3" height="26.48" fill="rgb(255,164,164)"/>
<rect x="568" y="363.44" width="4.3" height="26.48" fill="rgb(255,168,168)"/>
<rect x="572" y="363.44" width="31.8" height="26.48" fill="rgb(255,164,164)"/>
<rect x="70.5" y="389.61" width="44.3" height="30.51" fill="rgb(255,217,217)"/>
<rect x="114.5" y="389.61" width="5.3" height="30.51" fill="rgb(255,173,173)"/>
<rect x="119.5" y="389.61" width="20.8" height="30.51" fill="rgb(255,212,212)"/>
<rect x="140" y="389.61" width="31.3" height="30.51" fill="rgb(255,177,177)"/>
<rect x="171" y="389.61" width="29.3" height="30.51" fill="rgb(255,214,214)"/>
<rect x="200" y="389.61" width="23.1" height="30.51" fill="rgb(255,186,186)"/>
<rect x="222.8" y="389.61" width="18" height="30.51" fill="rgb(255,171,171)"/>
<rect x="240.5" y="389.61" width="4.3" height="30.51" fill="rgb(255,186,186)"/>
<rect x="244.5" y="389.61" width="31.8" height="30.51" fill="rgb(255,214,214)"/>
<rect x="276" y="389.61" width="14.3" height="30.51" fill="rgb(255,165,165)"/>
<rect x="290" y="389.61" width="9.3" height="30.51" fill="rgb(255,191,191)"/>
<rect x="299" y="389.61" width="26.3" height="30.51" fill="rgb(255,214,214)"/>
<rect x="325" y="389.61" width="6.3" height="30.51" fill="rgb(255,166,166)"/>
<rect x="331" y="389.61" width="29.3" height="30.51" fill="rgb(255,212,212)"/>
<rect x="360" y="389.61" width="4.3" height="30.51" fill="rgb(255,196,196)"/>
<rect x="364" y="389.61" width="26.3" height="30.51" fill="rgb(255,212,212)"/>
<rect x="390" y="389.61" width="30.3" height="30.51" fill="rgb(255,161,161)"/>
<rect x="420" y="389.61" width="6.3" height="30.51" fill="rgb(255,166,166)"/>
<rect x="426" y="389.61" width="52.3" height="30.51" fill="rgb(255,214,214)"/>
<rect x="478" y="389.61" width="12.3" height="30.51" fill="rgb(255,172,172)"/>
<rect x="490" y="389.61" width="14.3" height="30.51" fill="rgb(255,170,170)"/>
<rect x="504" y="389.61" width="23.3" height="30.51" fill="rgb(255,161,161)"/>
<rect x="527" y="389.61" width="8.3" height="30.51" fill="rgb(255,166,166)"/>
<rect x="535" y="389.61" width="33.3" height="30.51" fill="rgb(255,214,214)"/>
<rect x="568" y="389.61" width="4.3" height="30.51" fill="rgb(255,191,191)"/>
<rect x="572" y="389.61" width="31.8" height="30.51" fill="rgb(255,212,212)"/>
<rect x="70.5" y="419.82" width="44.3" height="6.34" fill="rgb(255,194,194)"/>
<rect x="114.5" y="419.82" width="5.3" height="6.34" fill="rgb(255,172,172)"/>
<rect x="119.5" y="419.82" width="20.8" height="6.34" fill="rgb(255,191,191)"/>
<rect x="140" y="419.82" width="31.3" height="6.34" fill="rgb(255,178,178)"/>
<rect x="171" y="419.82" width="29.3" height="6.34" fill="rgb(255,193,193)"/>
<rect x="200" y="419.82" width="23.1" height="6.34" fill="rgb(255,181,181)"/>
<rect x="222.8" y="419.82" width="18" height="6.34" fill="rgb(255,171,171)"/>
<rect x="240.5" y="419.82" width="4.3" height="6.34" fill="rgb(255,178,178)"/>
<rect x="244.5" y="419.82" width="31.8" height="6.34" fill="rgb(255,193,193)"/>
<rect x="276" y="419.82" width="14.3" height="6.34" fill="rgb(255,168,168)"/>
<rect x="290" y="419.82" width="9.3" height="6.34" fill="rgb(255,181,181)"/>
<rect x="299" y="419.82" width="26.3" height="6.34" fill="rgb(255,193,193)"/>
<rect x="325" y="419.82" width="6.3" height="6.34" fill="rgb(255,166,166)"/>
<rect x="331" y="419.82" width="29.3" height="6.34" fill="rgb(255,191,191)"/>
<rect x="360" y="419.82" width="4.3" height="6.34" fill="rgb(255,184,184)"/>
<rect x="364" y="419.82" width="26.3" height="6.34" fill="rgb(255,191,191)"/>
<rect x="390" y="419.82" width="30.3" height="6.34" fill="rgb(255,166,166)"/>
<rect x="420" y="419.82" width="6.3" height="6.34" fill="rgb(255,168,168)"/>
<rect x="426" y="419.82" width="52.3" height="6.34" fill="rgb(255,193,193)"/>
<rect x="478" y="419.82" width="12.3" height="6.34" fill="rgb(255,173,173)"/>
<rect x="490" y="419.82" width="14.3" height="6.34" fill="rgb(255,170,170)"/>
<rect x="504" y="419.82" width="23.3" height="6.34" fill="rgb(255,166,166)"/>
<rect x="527" y="419.82" width="8.3" height="6.34" fill="rgb(255,169,169)"/>
<rect x="535" y="419.82" width="33.3" height="6.34" fill="rgb(255,193,193)"/>
<rect x="568" y="419.82" width="4.3" height="6.34" fill="rgb(255,181,181)"/>
<rect x="572" y="419.82" width="31.8" height="6.34" fill="rgb(255,191,191)"/>
<rect x="70.5" y="425.86" width="44.3" height="52.66" fill="rgb(255,163,163)"/>
<rect x="114.5" y="425.86" width="5.3" height="52.66" fill="rgb(255,170,170)"/>
<rect x="119.5" y="425.86" width="20.8" height="52.66" fill="rgb(255,164,164)"/>
<rect x="140" y="425.86" width="31.3" height="52.66" fill="rgb(255,193,193)"/>
<rect x="171" y="425.86" width="29.3" height="52.66" fill="rgb(255,163,163)"/>
<rect x="200" y="425.86" width="23.1" height="52.66" fill="rgb(255,174,174)"/>
<rect x="222.8" y="425.86" width="18" height="52.66" fill="rgb(255,171,171)"/>
<rect x="240.5" y="425.86" width="4.3" height="52.66" fill="rgb(255,168,168)"/>
<rect x="244.5" y="425.86" width="31.8" height="52.66" fill="rgb(255,163,163)"/>
<rect x="276" y="425.86" width="14.3" height="52.66" fill="rgb(255,197,197)"/>
<rect x="290" y="425.86" width="9.3" height="52.66" fill="rgb(255,167,167)"/>
<rect x="299" y="425.86" width="26.3" height="52.66" fill="rgb(255,163,163)"/>
<rect x="325" y="425.86" width="6.3" height="52.66" fill="rgb(255,166,166)"/>
<rect x="331" y="425.86" width="29.3" height="52.66" fill="rgb(255,164,164)"/>
<rect x="360" y="425.86" width="4.3" height="52.66" fill="rgb(255,167,167)"/>
<rect x="364" y="425.86" width="26.3" height="52.66" fill="rgb(255,164,164)"/>
<rect x="390" y="425.86" width="30.3" height="52.66" fill="rgb(255,214,214)"/>
<rect x="420" y="425.86" width="6.3" height="52.66" fill="rgb(255,193,193)"/>
<rect x="426" y="425.86" width="52.3" height="52.66" fill="rgb(255,163,163)"/>
<rect x="478" y="425.86" width="12.3" height="52.66" fill="rgb(255,178,178)"/>
<rect x="490" y="425.86" width="14.3" height="52.66" fill="rgb(255,175,175)"/>
<rect x="504" y="425.86" width="23.3" height="52.66" fill="rgb(255,214,214)"/>
<rect x="527" y="425.86" width="8.3" height="52.66" fill="rgb(255,190,190)"/>
<rect x="535" y="425.86" width="33.3" height="52.66" fill="rgb(255,163,163)"/>
<rect x="568" y="425.86" width="4.3" height="52.66" fill="rgb(255,167,167)"/>
<rect x="572" y="425.86" width="31.8" height="52.66" fill="rgb(255,164,164)"/>
<rect x="70.5" y="478.22" width="44.3" height="12.38" fill="rgb(255,178,178)"/>
<rect x="114.5" y="478.22" width="5.3" height="12.38" fill="rgb(255,174,174)"/>
<rect x="119.5" y="478.22" width="20.8" height="12.38" fill="rgb(255,177,177)"/>
<rect x="140" y="478.22" width="31.3" height="12.38" fill="rgb(255,182,182)"/>
<rect x="171" y="478.22" width="29.3" height="12.38" fill="rgb(255,178,178)"/>
<rect x="200" y="478.22" width="23.1" height="12.38" fill="rgb(255,180,180)"/>
<rect x="222.8" y="478.22" width="18" height="12.38" fill="rgb(255,173,173)"/>
<rect x="240.5" y="478.22" width="4.3" height="12.38" fill="rgb(255,175,175)"/>
<rect x="244.5" y="478.22" width="31.8" height="12.38" fill="rgb(255,178,178)"/>
<rect x="276" y="478.22" width="14.3" height="12.38" fill="rgb(255,173,173)"/>
<rect x="290" y="478.22" width="9.3" height="12.38" fill="rgb(255,175,175)"/>
<rect x="299" y="478.22" width="26.3" height="12.38" fill="rgb(255,178,178)"/>
<rect x="325" y="478.22" width="6.3" height="12.38" fill="rgb(255,168,168)"/>
<rect x="331" y="478.22" width="29.3" height="12.38" fill="rgb(255,177,177)"/>
<rect x="360" y="478.22" width="4.3" height="12.38" fill="rgb(255,176,176)"/>
<rect x="364" y="478.22" width="26.3" height="12.38" fill="rgb(255,177,177)"/>
<rect x="390" y="478.22" width="30.3" height="12.38" fill="rgb(255,172,172)"/>
<rect x="420" y="478.22" width="6.3" height="12.38" fill="rgb(255,173,173)"/>
<rect x="426" y="478.22" width="52.3" height="12.38" fill="rgb(255,178,178)"/>
<rect x="478" y="478.22" width="12.3" height="12.38" fill="rgb(255,176,176)"/>
<rect x="490" y="478.22" width="14.3" height="12.38" fill="rgb(255,173,173)"/>
<rect x="504" y="478.22" width="23.3" height="12.38" fill="rgb(255,172,172)"/>
<rect x="527" y="478.22" width="8.3" height="12.38" fill="rgb(255,173,173)"/>
<rect x="535" y="478.22" width="33.3" height="12.38" fill="rgb(255,178,178)"/>
<rect x="568" y="478.22" width="4.3" height="12.38" fill="rgb(255,175,175)"/>
<rect x="572" y="478.22" width="31.8" height="12.38" fill="rgb(255,177,177)"/>
<rect x="70.5" y="490.3" width="44.3" height="14.4" fill="rgb(255,175,175)"/>
<rect x="114.5" y="490.3" width="5.3" height="14.4" fill="rgb(255,171,171)"/>
<rect x="119.5" y="490.3" width="20.8" height="14.4" fill="rgb(255,175,175)"/>
<rect x="140" y="490.3" width="31.3" height="14.4" fill="rgb(255,179,179)"/>
<rect x="171" y="490.3" width="29.3" height="14.4" fill="rgb(255,175,175)"/>
<rect x="200" y="490.3" width="23.1" height="14.4" fill="rgb(255,177,177)"/>
<rect x="222.8" y="490.3" width="18" height="14.4" fill="rgb(255,171,171)"/>
<rect x="240.5" y="490.3" width="4.3" height="14.4" fill="rgb(255,172,172)"/>
<rect x="244.5" y="490.3" width="31.8" height="14.4" fill="rgb(255,175,175)"/>
<rect x="276" y="490.3" width="14.3" height="14.4" fill="rgb(255,170,170)"/>
<rect x="290" y="490.3" width="9.3" height="14.4" fill="rgb(255,173,173)"/>
<rect x="299" y="490.3" width="26.3" height="14.4" fill="rgb(255,175,175)"/>
<rect x="325" y="490.3" width="6.3" height="14.4" fill="rgb(255,166,166)"/>
<rect x="331" y="490.3" width="29.3" height="14.4" fill="rgb(255,175,175)"/>
<rect x="360" y="490.3" width="4.3" height="14.4" fill="rgb(255,173,173)"/>
<rect x="364" y="490.3" width="26.3" height="14.4" fill="rgb(255,175,175)"/>
<rect x="390" y="490.3" width="30.3" height="14.4" fill="rgb(255,170,170)"/>
<rect x="420" y="490.3" width="6.3" height="14.4" fill="rgb(255,170,170)"/>
<rect x="426" y="490.3" width="52.3" height="14.4" fill="rgb(255,175,175)"/>
<rect x="478" y="490.3" width="12.3" height="14.4" fill="rgb(255,173,173)"/>
<rect x="490" y="490.3" width="14.3" height="14.4" fill="rgb(255,171,171)"/>
<rect x="504" y="490.3" width="23.3" height="14.4" fill="rgb(255,170,170)"/>
<rect x="527" y="490.3" width="8.3" height="14.4" fill="rgb(255,170,170)"/>
<rect x="535" y="490.3" width="33.3" height="14.4" fill="rgb(255,175,175)"/>
<rect x="568" y="490.3" width="4.3" height="14.4" fill="rgb(255,173,173)"/>
<rect x="572" y="490.3" width="31.8" height="14.4" fill="rgb(255,175,175)"/>
<rect x="70.5" y="504.4" width="44.3" height="23.46" fill="rgb(255,217,217)"/>
<rect x="114.5" y="504.4" width="5.3" height="23.46" fill="rgb(255,173,173)"/>
<rect x="119.5" y="504.4" width="20.8" height="23.46" fill="rgb(255,212,212)"/>
<rect x="140" y="504.4" width="31.3" height="23.46" fill="rgb(255,177,177)"/>
<rect x="171" y="504.4" width="29.3" height="23.46" fill="rgb(255,214,214)"/>
<rect x="200" y="504.4" width="23.1" height="23.46" fill="rgb(255,186,186)"/>
<rect x="222.8" y="504.4" width="18" height="23.46" fill="rgb(255,171,171)"/>
<rect x="240.5" y="504.4" width="4.3" height="23.46" fill="rgb(255,186,186)"/>
<rect x="244.5" y="504.4" width="31.8" height="23.46" fill="rgb(255,214,214)"/>
<rect x="276" y="504.4" width="14.3" height="23.46" fill="rgb(255,165,165)"/>
<rect x="290" y="504.4" width="9.3" height="23.46" fill="rgb(255,191,191)"/>
<rect x="299" y="504.4" width="26.3" height="23.46" fill="rgb(255,214,214)"/>
<rect x="325" y="504.4" width="6.3" height="23.46" fill="rgb(255,166,166)"/>
<rect x="331" y="504.4" width="29.3" height="23.46" fill="rgb(255,212,212)"/>
<rect x="360" y="504.4" width="4.3" height="23.46" fill="rgb(255,196,196)"/>
<rect x="364" y="504.4" width="26.3" height="23.46" fill="rgb(255,212,212)"/>
<rect x="390" y="504.4" width="30.3" height="23.46" fill="rgb(255,161,161)"/>
<rect x="420" y="504.4" width="6.3" height="23.46" fill="rgb(255,166,166)"/>
<rect x="426" y="504.4" width="52.3" height="23.46" fill="rgb(255,214,214)"/>
<rect x="478" y="504.4" width="12.3" height="23.46" fill="rgb(255,172,172)"/>
<rect x="490" y="504.4" width="14.3" height="23.46" fill="rgb(255,170,170)"/>
<rect x="504" y="504.4" width="23.3" height="23.46" fill="rgb(255,161,161)"/>
<rect x="527" y="504.4" width="8.3" height="23.46" fill="rgb(255,166,166)"/>
<rect x="535" y="504.4" width="33.3" height="23.46" fill="rgb(255,214,214)"/>
<rect x="568" y="504.4" width="4.3" height="23.46" fill="rgb(255,191,191)"/>
<rect x="572" y="504.4" width="31.8" height="23.46" fill="rgb(255,212,212)"/>
<rect x="70.5" y="527.56" width="44.3" height="8.36" fill="rgb(255,192,192)"/>
<rect x="114.5" y="527.56" width="5.3" height="8.36" fill="rgb(255,172,172)"/>
<rect x="119.5" y="527.56" width="20.8" height="8.36" fill="rgb(255,189,189)"/>
<rect x="140" y="527.56" width="31.3" height="8.36" fill="rgb(255,178,178)"/>
<rect x="171" y="527.56" width="29.3" height="8.36" fill="rgb(255,190,190)"/>
<rect x="200" y="527.56" width="23.1" height="8.36" fill="rgb(255,181,181)"/>
<rect x="222.8" y="527.56" width="18" height="8.36" fill="rgb(255,171,171)"/>
<rect x="240.5" y="527.56" width="4.3" height="8.36" fill="rgb(255,178,178)"/>
<rect x="244.5" y="527.56" width="31.8" height="8.36" fill="rgb(255,190,190)"/>
<rect x="276" y="527.56" width="14.3" height="8.36" fill="rgb(255,168,168)"/>
<rect x="290" y="527.56" width="9.3" height="8.36" fill="rgb(255,180,180)"/>
<rect x="299" y="527.56" width="26.3" height="8.36" fill="rgb(255,190,190)"/>
<rect x="325" y="527.56" width="6.3" height="8.36" fill="rgb(255,166,166)"/>
<rect x="331" y="527.56" width="29.3" height="8.36" fill="rgb(255,189,189)"/>
<rect x="360" y="527.56" width="4.3" height="8.36" fill="rgb(255,182,182)"/>
<rect x="364" y="527.56" width="26.3" height="8.36" fill="rgb(255,189,189)"/>
<rect x="390" y="527.56" width="30.3" height="8.36" fill="rgb(255,166,166)"/>
<rect x="420" y="527.56" width="6.3" height="8.36" fill="rgb(255,169,169)"/>
<rect x="426" y="527.56" width="52.3" height="8.36" fill="rgb(255,190,190)"/>
<rect x="478" y="527.56" width="12.3" height="8.36" fill="rgb(255,173,173)"/>
<rect x="490" y="527.56" width="14.3" height="8.36" fill="rgb(255,170,170)"/>
<rect x="504" y="527.56" width="23.3" height="8.36" fill="rgb(255,166,166)"/>
<rect x="527" y="527.56" width="8.3" height="8.36" fill="rgb(255,169,169)"/>
<rect x="535" y="527.56" width="33.3" height="8.36" fill="rgb(255,190,190)"/>
<rect x="568" y="527.56" width="4.3" height="8.36" fill="rgb(255,180,180)"/>
<rect x="572" y="527.56" width="31.8" height="8.36" fill="rgb(255,189,189)"/>
<rect x="70.5" y="535.61" width="44.3" height="33.53" fill="rgb(255,163,163)"/>
<rect x="114.5" y="535.61" width="5.3" height="33.53" fill="rgb(255,170,170)"/>
<rect x="119.5" y="535.61" width="20.8" height="33.53" fill="rgb(255,164,164)"/>
<rect x="140" y="535.61" width="31.3" height="33.53" fill="rgb(255,193,193)"/>
<rect x="171" y="535.61" width="29.3" height="33.53" fill="rgb(255,163,163)"/>
<rect x="200" y="535.61" width="23.1" height="33.53" fill="rgb(255,174,174)"/>
<rect x="222.8" y="535.61" width="18" height="33.53" fill="rgb(255,171,171)"/>
<rect x="240.5" y="535.61" width="4.3" height="33.53" fill="rgb(255,168,168)"/>
<rect x="244.5" y="535.61" width="31.8" height="33.53" fill="rgb(255,163,163)"/>
<rect x="276" y="535.61" width="14.3" height="33.53" fill="rgb(255,197,197)"/>
<rect x="290" y="535.61" width="9.3" height="33.53" fill="rgb(255,167,167)"/>
<rect x="299" y="535.61" width="26.3" height="33.53" fill="rgb(255,163,163)"/>
<rect x="325" y="535.61" width="6.3" height="33.53" fill="rgb(255,166,166)"/>
<rect x="331" y="535.61" width="29.3" height="33.53" fill="rgb(255,164,164)"/>
<rect x="360" y="535.61" width="4.3" height="33.53" fill="rgb(255,167,167)"/>
<rect x="364" y="535.61" width="26.3" height="33.53" fill="rgb(255,164,164)"/>
<rect x="390" y="535.61" width="30.3" height="33.53" fill="rgb(255,214,214)"/>
<rect x="420" y="535.61" width="6.3" height="33.53" fill="rgb(255,193,193)"/>
<rect x="426" y="535.61" width="52.3" height="33.53" fill="rgb(255,163,163)"/>
<rect x="478" y="535.61" width="12.3" height="33.53" fill="rgb(255,178,178)"/>
<rect x="490" y="535.61" width="14.3" height="33.53" fill="rgb(255,175,175)"/>
<rect x="504" y="535.61" width="23.3" height="33.53" fill="rgb(255,214,214)"/>
<rect x="527" y="535.61" width="8.3" height="33.53" fill="rgb(255,190,190)"/>
<rect x="535" y="535.61" width="33.3" height="33.53" fill="rgb(255,163,163)"/>
<rect x="568" y="535.61" width="4.3" height="33.53" fill="rgb(255,167,167)"/>
<rect x="572" y="535.61" width="31.8" height="33.53" fill="rgb(255,164,164)"/>
<rect x="70.5" y="568.84" width="44.3" height="4.33" fill="rgb(255,167,167)"/>
<rect x="114.5" y="568.84" width="5.3" height="4.33" fill="rgb(255,171,171)"/>
<rect x="119.5" y="568.84" width="20.8" height="4.33" fill="rgb(255,168,168)"/>
<rect x="140" y="568.84" width="31.3" height="4.33" fill="rgb(255,186,186)"/>
<rect x="171" y="568.84" width="29.3" height="4.33" fill="rgb(255,167,167)"/>
<rect x="200" y="568.84" width="23.1" height="4.33" fill="rgb(255,175,175)"/>
<rect x="222.8" y="568.84" width="18" height="4.33" fill="rgb(255,171,171)"/>
<rect x="240.5" y="568.84" width="4.3" height="4.33" fill="rgb(255,170,170)"/>
<rect x="244.5" y="568.84" width="31.8" height="4.33" fill="rgb(255,167,167)"/>
<rect x="276" y="568.84" width="14.3" height="4.33" fill="rgb(255,183,183)"/>
<rect x="290" y="568.84" width="9.3" height="4.33" fill="rgb(255,169,169)"/>
<rect x="299" y="568.84" width="26.3" height="4.33" fill="rgb(255,167,167)"/>
<rect x="325" y="568.84" width="6.3" height="4.33" fill="rgb(255,166,166)"/>
<rect x="331" y="568.84" width="29.3" height="4.33" fill="rgb(255,168,168)"/>
<rect x="360" y="568.84" width="4.3" height="4.33" fill="rgb(255,169,169)"/>
<rect x="364" y="568.84" width="26.3" height="4.33" fill="rgb(255,168,168)"/>
<rect x="390" y="568.84" width="30.3" height="4.33" fill="rgb(255,191,191)"/>
<rect x="420" y="568.84" width="6.3" height="4.33" fill="rgb(255,181,181)"/>
<rect x="426" y="568.84" width="52.3" height="4.33" fill="rgb(255,167,167)"/>
<rect x="478" y="568.84" width="12.3" height="4.33" fill="rgb(255,175,175)"/>
<rect x="490" y="568.84" width="14.3" height="4.33" fill="rgb(255,173,173)"/>
<rect x="504" y="568.84" width="23.3" height="4.33" fill="rgb(255,191,191)"/>
<rect x="527" y="568.84" width="8.3" height="4.33" fill="rgb(255,180,180)"/>
<rect x="535" y="568.84" width="33.3" height="4.33" fill="rgb(255,167,167)"/>
<rect x="568" y="568.84" width="4.3" height="4.33" fill="rgb(255,169,169)"/>
<rect x="572" y="568.84" width="31.8" height="4.33" fill="rgb(255,168,168)"/>
<rect x="70.5" y="572.87" width="44.3" height="31.93" fill="rgb(255,164,164)"/>
<rect x="114.5" y="572.87" width="5.3" height="31.93" fill="rgb(255,170,170)"/>
<rect x="119.5" y="572.87" width="20.8" height="31.93" fill="rgb(255,164,164)"/>
<rect x="140" y="572.87" width="31.3" height="31.93" fill="rgb(255,192,192)"/>
<rect x="171" y="572.87" width="29.3" height="31.93" fill="rgb(255,164,164)"/>
<rect x="200" y="572.87" width="23.1" height="31.93" fill="rgb(255,174,174)"/>
<rect x="222.8" y="572.87" width="18" height="31.93" fill="rgb(255,171,171)"/>
<rect x="240.5" y="572.87" width="4.3" height="31.93" fill="rgb(255,168,168)"/>
<rect x="244.5" y="572.87" width="31.8" height="31.93" fill="rgb(255,164,164)"/>
<rect x="276" y="572.87" width="14.3" height="31.93" fill="rgb(255,195,195)"/>
<rect x="290" y="572.87" width="9.3" height="31.93" fill="rgb(255,168,168)"/>
<rect x="299" y="572.87" width="26.3" height="31.93" fill="rgb(255,164,164)"/>
<rect x="325" y="572.87" width="6.3" height="31.93" fill="rgb(255,166,166)"/>
<rect x="331" y="572.87" width="29.3" height="31.93" fill="rgb(255,164,164)"/>
<rect x="360" y="572.87" width="4.3" height="31.93" fill="rgb(255,167,167)"/>
<rect x="364" y="572.87" width="26.3" height="31.93" fill="rgb(255,164,164)"/>
<rect x="390" y="572.87" width="30.3" height="31.93" fill="rgb(255,212,212)"/>
<rect x="420" y="572.87" width="6.3" height="31.93" fill="rgb(255,191,191)"/>
<rect x="426" y="572.87" width="52.3" height="31.93" fill="rgb(255,164,164)"/>
<rect x="478" y="572.87" width="12.3" height="31.93" fill="rgb(255,177,177)"/>
<rect x="490" y="572.87" width="14.3" height="31.93" fill="rgb(255,175,175)"/>
<rect x="504" y="572.87" width="23.3" height="31.93" fill="rgb(255,212,212)"/>
<rect x="527" y="572.87" width="8.3" height="31.93" fill="rgb(255,189,189)"/>
<rect x="535" y="572.87" width="33.3" height="31.93" fill="rgb(255,164,164)"/>
<rect x="568" y="572.87" width="4.3" height="31.93" fill="rgb(255,168,168)"/>
<rect x="572" y="572.87" width="31.8" height="31.93" fill="rgb(255,164,164)"/>
</g>
<rect x="102" y="99.63" width="22" height="22.15" fill="#f00" fill-opacity="0.125" filter="url(#tadb)"/>
<rect x="138" y="135.88" width="27" height="27.19" fill="#f00" fill-opacity="0.109" filter="url(#tadb)"/>
<rect x="165" y="163.07" width="21" height="21.14" fill="#f00" fill-opacity="0.078" filter="url(#tadb)"/>
<rect x="273" y="271.81" width="23" height="23.16" fill="#f00" fill-opacity="0.078" filter="url(#tadb)"/>
<rect x="318" y="317.12" width="24" height="24.17" fill="#f00" fill-opacity="0.062" filter="url(#tadb)"/>
<rect x="440" y="439.96" width="32" height="32.22" fill="#f00" fill-opacity="0.055" filter="url(#tadb)"/>
<rect x="478" y="478.22" width="26" height="26.18" fill="#f00" fill-opacity="0.062" filter="url(#tadb)"/>
<rect x="505" y="505.41" width="28" height="28.19" fill="#f00" fill-opacity="0.094" filter="url(#tadb)"/>
<rect x="540" y="540.65" width="25" height="25.17" fill="#f00" fill-opacity="0.055" filter="url(#tadb)"/>
<rect x="0" y="-120" width="722.31" height="240" fill="url(#diagg)" transform="translate(82.5,80) rotate(45.196)"/>
<rect x="0" y="-55" width="198.41" height="110" fill="url(#phalo)" transform="translate(82.5,80) rotate(45.196)"/>
</g>
<rect x="222.8" y="80" width="17.7" height="512.5" fill="#fff"/>
<rect x="82.5" y="222.2" width="509" height="16.3" fill="#fff"/>
<rect x="298.5" y="80" width="1.4" height="512.5" fill="#fff" opacity="0.85"/>
<rect x="360.95" y="80" width="1.5" height="512.5" fill="#fff" opacity="0.92"/>
<rect x="82.5" y="297.6" width="509" height="1.4" fill="#fff" opacity="0.8"/>
<rect x="82.5" y="361.25" width="509" height="1.5" fill="#fff" opacity="0.9"/>
<rect x="82.5" y="195.2" width="509" height="1.6" fill="#fff" opacity="0.35"/>
<rect x="82.5" y="214.3" width="509" height="3" fill="#fff" opacity="0.35"/>
<rect x="197.2" y="80" width="1.6" height="512.5" fill="#fff" opacity="0.35"/>
<rect x="216.75" y="80" width="2.5" height="512.5" fill="#fff" opacity="0.35"/>
</g>
<line x1="81.7" y1="79.7" x2="592" y2="79.7" stroke="#222" stroke-width="1.9"/>
<line x1="82.2" y1="79" x2="82.2" y2="596.3" stroke="#222" stroke-width="1.1"/>
<line x1="591.5" y1="79" x2="591.5" y2="592.5" stroke="#222" stroke-width="1.1"/>
<line x1="82.5" y1="592.5" x2="591.5" y2="592.5" stroke="#555" stroke-width="1" opacity="0.75"/>
<line x1="82.5" y1="75.5" x2="82.5" y2="80" stroke="#222" stroke-width="1.3"/>
<text x="82.5" y="68.7" font-size="16.7" fill="#111" stroke="#111" stroke-width="0.3" text-anchor="middle" textLength="34.5" lengthAdjust="spacingAndGlyphs">0 bp</text>
<line x1="160.7" y1="75.5" x2="160.7" y2="80" stroke="#222" stroke-width="1.3"/>
<line x1="160.7" y1="592.5" x2="160.7" y2="596.7" stroke="#333" stroke-width="1.3"/>
<text x="160.7" y="68.7" font-size="16.7" fill="#111" stroke="#111" stroke-width="0.3" text-anchor="middle" textLength="70.2" lengthAdjust="spacingAndGlyphs">12.5 Mbp</text>
<line x1="238.9" y1="75.5" x2="238.9" y2="80" stroke="#222" stroke-width="1.3"/>
<line x1="238.9" y1="592.5" x2="238.9" y2="596.7" stroke="#333" stroke-width="1.3"/>
<text x="238.9" y="68.7" font-size="16.7" fill="#111" stroke="#111" stroke-width="0.3" text-anchor="middle" textLength="56.2" lengthAdjust="spacingAndGlyphs">25 Mbp</text>
<line x1="317.1" y1="75.5" x2="317.1" y2="80" stroke="#222" stroke-width="1.3"/>
<line x1="317.1" y1="592.5" x2="317.1" y2="596.7" stroke="#333" stroke-width="1.3"/>
<text x="317.1" y="68.7" font-size="16.7" fill="#111" stroke="#111" stroke-width="0.3" text-anchor="middle" textLength="70.2" lengthAdjust="spacingAndGlyphs">37.5 Mbp</text>
<line x1="395.3" y1="75.5" x2="395.3" y2="80" stroke="#222" stroke-width="1.3"/>
<line x1="395.3" y1="592.5" x2="395.3" y2="596.7" stroke="#333" stroke-width="1.3"/>
<text x="395.3" y="68.7" font-size="16.7" fill="#111" stroke="#111" stroke-width="0.3" text-anchor="middle" textLength="56.2" lengthAdjust="spacingAndGlyphs">50 Mbp</text>
<line x1="473.5" y1="75.5" x2="473.5" y2="80" stroke="#222" stroke-width="1.3"/>
<line x1="473.5" y1="592.5" x2="473.5" y2="596.7" stroke="#333" stroke-width="1.3"/>
<text x="473.5" y="68.7" font-size="16.7" fill="#111" stroke="#111" stroke-width="0.3" text-anchor="middle" textLength="70.2" lengthAdjust="spacingAndGlyphs">62.5 Mbp</text>
<line x1="551.7" y1="75.5" x2="551.7" y2="80" stroke="#222" stroke-width="1.3"/>
<line x1="551.7" y1="592.5" x2="551.7" y2="596.7" stroke="#333" stroke-width="1.3"/>
<text x="551.7" y="68.7" font-size="16.7" fill="#111" stroke="#111" stroke-width="0.3" text-anchor="middle" textLength="56.2" lengthAdjust="spacingAndGlyphs">75 Mbp</text>
<line x1="78.5" y1="158.83" x2="82.5" y2="158.83" stroke="#222" stroke-width="1"/>
<text transform="translate(69.8,158.83) rotate(-90)" font-size="16.7" fill="#111" stroke="#111" stroke-width="0.3" text-anchor="middle" textLength="70.2" lengthAdjust="spacingAndGlyphs">12.5 Mbp</text>
<line x1="78.5" y1="237.66" x2="82.5" y2="237.66" stroke="#222" stroke-width="1"/>
<text transform="translate(69.8,237.66) rotate(-90)" font-size="16.7" fill="#111" stroke="#111" stroke-width="0.3" text-anchor="middle" textLength="56.2" lengthAdjust="spacingAndGlyphs">25 Mbp</text>
<line x1="78.5" y1="316.49" x2="82.5" y2="316.49" stroke="#222" stroke-width="1"/>
<text transform="translate(69.8,316.49) rotate(-90)" font-size="16.7" fill="#111" stroke="#111" stroke-width="0.3" text-anchor="middle" textLength="70.2" lengthAdjust="spacingAndGlyphs">37.5 Mbp</text>
<line x1="78.5" y1="395.32" x2="82.5" y2="395.32" stroke="#222" stroke-width="1"/>
<text transform="translate(69.8,395.32) rotate(-90)" font-size="16.7" fill="#111" stroke="#111" stroke-width="0.3" text-anchor="middle" textLength="56.2" lengthAdjust="spacingAndGlyphs">50 Mbp</text>
<line x1="78.5" y1="474.15" x2="82.5" y2="474.15" stroke="#222" stroke-width="1"/>
<text transform="translate(69.8,474.15) rotate(-90)" font-size="16.7" fill="#111" stroke="#111" stroke-width="0.3" text-anchor="middle" textLength="70.2" lengthAdjust="spacingAndGlyphs">62.5 Mbp</text>
<line x1="78.5" y1="552.98" x2="82.5" y2="552.98" stroke="#222" stroke-width="1"/>
<text transform="translate(69.8,552.98) rotate(-90)" font-size="16.7" fill="#111" stroke="#111" stroke-width="0.3" text-anchor="middle" textLength="56.2" lengthAdjust="spacingAndGlyphs">75 Mbp</text>
<rect x="634.5" y="79.7" width="15.5" height="512.8" fill="url(#cbg)" stroke="#333" stroke-width="1"/>
<line x1="634.5" y1="79.7" x2="650" y2="79.7" stroke="#222" stroke-width="1.6"/>
<line x1="650" y1="592.5" x2="653.8" y2="592.5" stroke="#222" stroke-width="1"/>
<text x="660.5" y="598.8" font-size="14.7" fill="#111" stroke="#111" stroke-width="0.25">10<tspan font-size="11.3" dx="2" dy="-5.8">0</tspan></text>
<line x1="650" y1="559.63" x2="652.4" y2="559.63" stroke="#222" stroke-width="0.9"/>
<line x1="650" y1="540.4" x2="652.4" y2="540.4" stroke="#222" stroke-width="0.9"/>
<line x1="650" y1="526.76" x2="652.4" y2="526.76" stroke="#222" stroke-width="0.9"/>
<line x1="650" y1="516.17" x2="652.4" y2="516.17" stroke="#222" stroke-width="0.9"/>
<line x1="650" y1="507.53" x2="652.4" y2="507.53" stroke="#222" stroke-width="0.9"/>
<line x1="650" y1="500.22" x2="652.4" y2="500.22" stroke="#222" stroke-width="0.9"/>
<line x1="650" y1="493.88" x2="652.4" y2="493.88" stroke="#222" stroke-width="0.9"/>
<line x1="650" y1="488.3" x2="652.4" y2="488.3" stroke="#222" stroke-width="0.9"/>
<line x1="650" y1="483.3" x2="653.8" y2="483.3" stroke="#222" stroke-width="1"/>
<text x="660.5" y="489.6" font-size="14.7" fill="#111" stroke="#111" stroke-width="0.25">10<tspan font-size="11.3" dx="2" dy="-5.8">1</tspan></text>
<line x1="650" y1="450.43" x2="652.4" y2="450.43" stroke="#222" stroke-width="0.9"/>
<line x1="650" y1="431.2" x2="652.4" y2="431.2" stroke="#222" stroke-width="0.9"/>
<line x1="650" y1="417.56" x2="652.4" y2="417.56" stroke="#222" stroke-width="0.9"/>
<line x1="650" y1="406.97" x2="652.4" y2="406.97" stroke="#222" stroke-width="0.9"/>
<line x1="650" y1="398.33" x2="652.4" y2="398.33" stroke="#222" stroke-width="0.9"/>
<line x1="650" y1="391.02" x2="652.4" y2="391.02" stroke="#222" stroke-width="0.9"/>
<line x1="650" y1="384.68" x2="652.4" y2="384.68" stroke="#222" stroke-width="0.9"/>
<line x1="650" y1="379.1" x2="652.4" y2="379.1" stroke="#222" stroke-width="0.9"/>
<line x1="650" y1="374.1" x2="653.8" y2="374.1" stroke="#222" stroke-width="1"/>
<text x="660.5" y="380.4" font-size="14.7" fill="#111" stroke="#111" stroke-width="0.25">10<tspan font-size="11.3" dx="2" dy="-5.8">2</tspan></text>
<line x1="650" y1="341.23" x2="652.4" y2="341.23" stroke="#222" stroke-width="0.9"/>
<line x1="650" y1="322" x2="652.4" y2="322" stroke="#222" stroke-width="0.9"/>
<line x1="650" y1="308.36" x2="652.4" y2="308.36" stroke="#222" stroke-width="0.9"/>
<line x1="650" y1="297.77" x2="652.4" y2="297.77" stroke="#222" stroke-width="0.9"/>
<line x1="650" y1="289.13" x2="652.4" y2="289.13" stroke="#222" stroke-width="0.9"/>
<line x1="650" y1="281.82" x2="652.4" y2="281.82" stroke="#222" stroke-width="0.9"/>
<line x1="650" y1="275.48" x2="652.4" y2="275.48" stroke="#222" stroke-width="0.9"/>
<line x1="650" y1="269.9" x2="652.4" y2="269.9" stroke="#222" stroke-width="0.9"/>
<line x1="650" y1="264.9" x2="653.8" y2="264.9" stroke="#222" stroke-width="1"/>
<text x="660.5" y="271.2" font-size="14.7" fill="#111" stroke="#111" stroke-width="0.25">10<tspan font-size="11.3" dx="2" dy="-5.8">3</tspan></text>
<line x1="650" y1="232.03" x2="652.4" y2="232.03" stroke="#222" stroke-width="0.9"/>
<line x1="650" y1="212.8" x2="652.4" y2="212.8" stroke="#222" stroke-width="0.9"/>
<line x1="650" y1="199.16" x2="652.4" y2="199.16" stroke="#222" stroke-width="0.9"/>
<line x1="650" y1="188.57" x2="652.4" y2="188.57" stroke="#222" stroke-width="0.9"/>
<line x1="650" y1="179.93" x2="652.4" y2="179.93" stroke="#222" stroke-width="0.9"/>
<line x1="650" y1="172.62" x2="652.4" y2="172.62" stroke="#222" stroke-width="0.9"/>
<line x1="650" y1="166.28" x2="652.4" y2="166.28" stroke="#222" stroke-width="0.9"/>
<line x1="650" y1="160.7" x2="652.4" y2="160.7" stroke="#222" stroke-width="0.9"/>
<line x1="650" y1="155.7" x2="653.8" y2="155.7" stroke="#222" stroke-width="1"/>
<text x="660.5" y="162" font-size="14.7" fill="#111" stroke="#111" stroke-width="0.25">10<tspan font-size="11.3" dx="2" dy="-5.8">4</tspan></text>
<line x1="650" y1="122.83" x2="652.4" y2="122.83" stroke="#222" stroke-width="0.9"/>
<line x1="650" y1="103.6" x2="652.4" y2="103.6" stroke="#222" stroke-width="0.9"/>
<line x1="650" y1="89.96" x2="652.4" y2="89.96" stroke="#222" stroke-width="0.9"/>
</svg>
</body></html>
